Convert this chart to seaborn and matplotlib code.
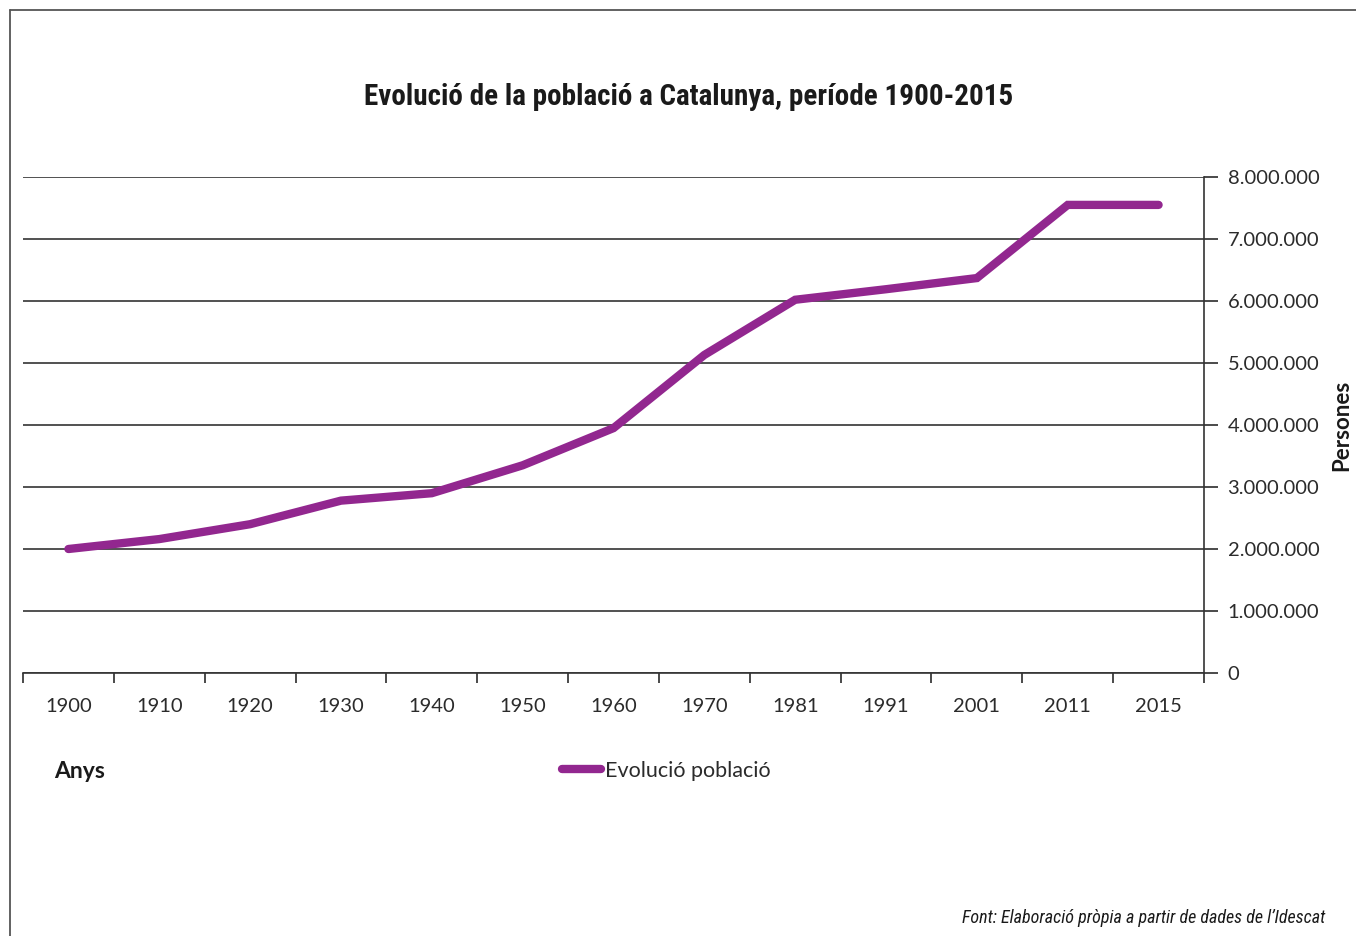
import numpy as np
import pandas as pd
import matplotlib
matplotlib.use("Agg")
import matplotlib.pyplot as plt
from matplotlib.ticker import FuncFormatter
from matplotlib.lines import Line2D
from matplotlib import font_manager
import seaborn as sns

# Data
anys = ["1900", "1910", "1920", "1930", "1940", "1950", "1960",
        "1970", "1981", "1991", "2001", "2011", "2015"]
persones = [2000000, 2160000, 2400000, 2780000, 2900000, 3350000, 3950000,
            5130000, 6020000, 6190000, 6370000, 7550000, 7550000]
y_ticks = [0, 1000000, 2000000, 3000000, 4000000, 5000000, 6000000, 7000000, 8000000]

df = pd.DataFrame({"any": anys, "persones": persones})

sns.set_theme(style="white")
plt.rcParams["font.family"] = ["Lato", "DejaVu Sans"]
text_col = "#2b2b2b"
purple = "#92278F"

# narrow font for title/footer if one is installed
names = {f.name for f in font_manager.fontManager.ttflist}
narrow = None
for cand in ["Roboto Condensed", "Liberation Sans Narrow", "DejaVu Sans Condensed"]:
    if cand in names:
        narrow = cand
        break

fig = plt.figure(figsize=(13.56, 9.36), dpi=100)
ax = fig.add_axes([23 / 1356, 1 - 673 / 936, (1204 - 23) / 1356, (673 - 177) / 936])

sns.lineplot(data=df, x="any", y="persones", ax=ax, color=purple, linewidth=6,
             solid_capstyle="round", solid_joinstyle="miter", sort=False, zorder=3)

ax.set_xlim(-0.5, len(anys) - 0.5)
ax.set_ylim(0, 8000000)

# y axis on the right with dotted thousands
ax.yaxis.tick_right()
ax.set_yticks(y_ticks)
ax.yaxis.set_major_formatter(FuncFormatter(lambda v, p: f"{int(v):,}".replace(",", ".")))
ax.tick_params(axis="y", which="major", direction="out", length=10, width=1.2,
               color=text_col, labelsize=14.5, labelcolor=text_col, pad=7)
ax.grid(axis="y", color="#333333", linewidth=1.2)
ax.grid(axis="x", visible=False)

# x axis: labels centred, ticks between categories
ax.set_xticks(range(len(anys)))
ax.set_xticklabels(anys)
ax.set_xticks(np.arange(-0.5, len(anys), 1), minor=True)
ax.tick_params(axis="x", which="major", length=0, labelsize=14.5, labelcolor=text_col, pad=18)
ax.tick_params(axis="x", which="minor", direction="out", length=7, width=1.2,
               color=text_col, bottom=True)

ax.set_xlabel("")
ax.set_ylabel("")
for side in ["left", "top"]:
    ax.spines[side].set_visible(False)
for side in ["right", "bottom"]:
    ax.spines[side].set_visible(True)
    ax.spines[side].set_color("#333333")
    ax.spines[side].set_linewidth(1.2)

if narrow:
    title_fam = [narrow, "DejaVu Sans"]
    title_size = 21
    foot_size = 13
else:
    title_fam = ["Lato", "DejaVu Sans"]
    title_size = 19
    foot_size = 12

# title and labels
fig.text(689 / 1356, 1 - 97 / 936, "Evolució de la població a Catalunya, període 1900-2015",
         ha="center", va="center", fontsize=title_size, fontweight="bold", color="#1a1a1a",
         family=title_fam)
fig.text(54 / 1356, 1 - 771 / 936, "Anys", ha="left", va="center", fontsize=16.5,
         fontweight="bold", color="#1a1a1a")
fig.text(1342 / 1356, 1 - 425 / 936, "Persones", ha="center", va="center", rotation=90,
         fontsize=16, fontweight="bold", color="#1a1a1a")
fig.text(1325 / 1356, 1 - 918 / 936,
         "Font: Elaboració pròpia a partir de dades de l\u2019Idescat",
         ha="right", va="center", fontsize=foot_size, style="italic", color="#1a1a1a",
         family=title_fam)

handle = Line2D([], [], color=purple, linewidth=6, solid_capstyle="round")
ax.legend([handle], ["Evolució població"], loc="center left",
          bbox_to_anchor=(562 / 1356, 1 - 771 / 936), bbox_transform=fig.transFigure,
          frameon=False, fontsize=15.5, handlelength=1.8, handletextpad=0.2,
          borderpad=0, borderaxespad=0, labelcolor=text_col)

# frame around the figure (left and top edges visible)
fig.add_artist(Line2D([10 / 1356, 10 / 1356], [0, 1 - 10 / 936], transform=fig.transFigure,
                      color="#555555", linewidth=1.3))
fig.add_artist(Line2D([10 / 1356, 1], [1 - 10 / 936, 1 - 10 / 936], transform=fig.transFigure,
                      color="#555555", linewidth=1.3))

fig.savefig("out.png", dpi=100)
